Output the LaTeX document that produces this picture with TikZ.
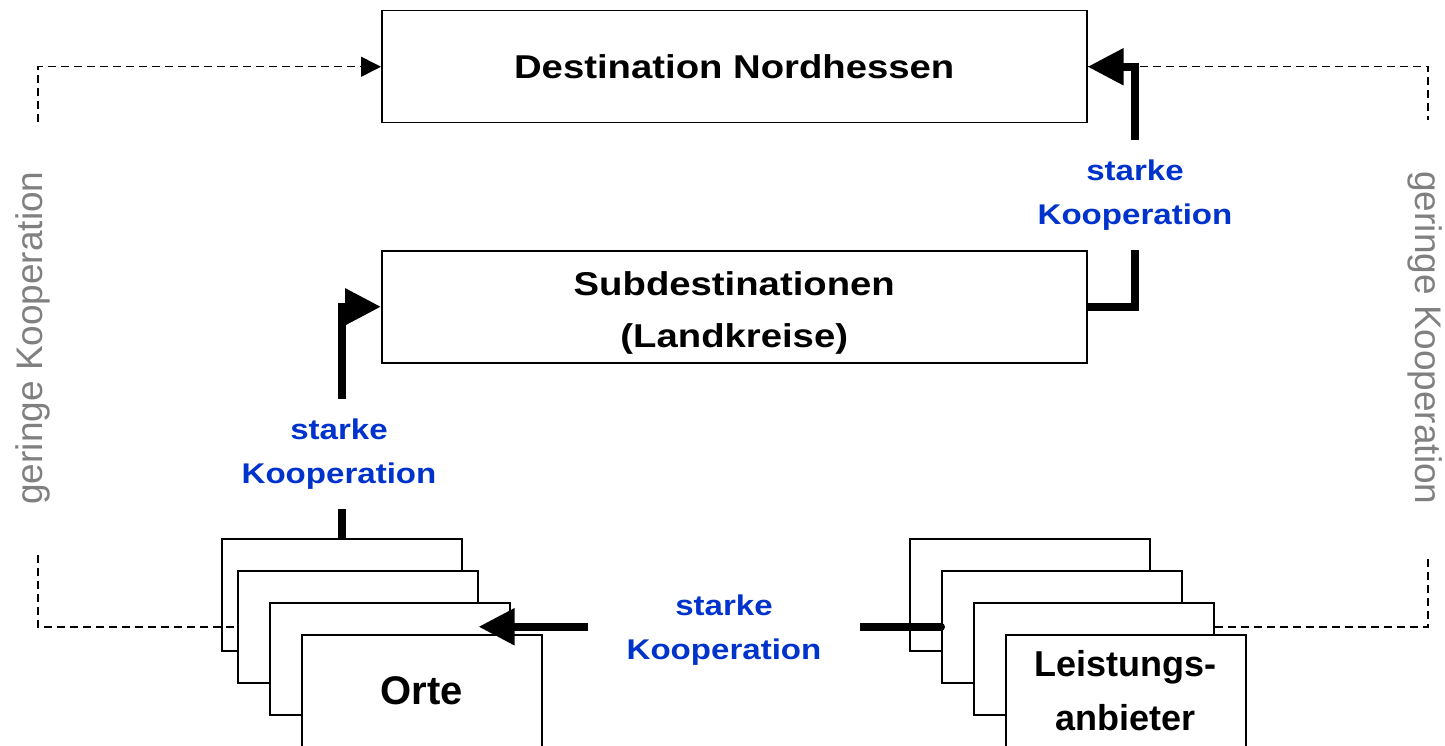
\documentclass[tikz,border=0pt]{standalone}
\usepackage{fontspec}
\setmainfont{Liberation Sans}
\newfontfamily\widesans[FakeStretch=1.16]{Liberation Sans}
\usetikzlibrary{arrows.meta}
\definecolor{kblue}{RGB}{0,51,204}
\definecolor{kgray}{RGB}{128,128,128}
\begin{document}
\begin{tikzpicture}[x=1pt,y=-1pt,
  box/.style={draw, line width=1.5pt, fill=white, inner sep=0pt, anchor=north west,
    align=center, minimum width=240pt, minimum height=112pt},
  bigbox/.style={box, minimum width=705pt, minimum height=112pt,
    font=\widesans\bfseries\fontsize{33}{52}\selectfont},
  boxtext/.style={inner sep=0pt, align=center,
    font=\widesans\bfseries\fontsize{33}{52}\selectfont},
  thickconn/.style={line width=8pt, -{Triangle[length=36pt,width=35pt]}},
  dashline/.style={line width=1.5pt, dash pattern=on 8pt off 5pt},
  dasharrow/.style={dashline, -{Triangle[length=20pt,width=20pt]}},
  blabel/.style={fill=white, text=kblue, align=center, inner sep=0pt,
    font=\widesans\bfseries\fontsize{28.5}{44}\selectfont},
  glabel/.style={text=kgray, inner sep=0pt, font=\fontsize{37}{44}\selectfont}]
\useasboundingbox (0,0) rectangle (1445,746);

% main boxes
\node[bigbox] (dest) at (381,10) {Destination Nordhessen};
\node[bigbox] (sub) at (381,250) {};
\node[boxtext] (subtext) at ([yshift=-6.5pt]sub.center) {Subdestinationen\\(Landkreise)};

% Orte stack
\node[box] (orte1) at (221,538) {};
\node[box] (orte2) at (237,570) {};
\node[box] (orte3) at (269,602) {};
\node[box, font=\bfseries\fontsize{40}{48}\selectfont] (orte4) at (301,634) {Orte};

% Leistungsanbieter stack
\node[box] (leist1) at (909,538) {};
\node[box] (leist2) at (941,570) {};
\node[box] (leist3) at (973,602) {};
\node[box, font=\bfseries\fontsize{36}{54}\selectfont] (leist4) at (1005,634) {Leistungs-\\anbieter};

% free ends of the dashed connectors
\coordinate (lt) at (38,122);
\coordinate (lb) at (38,555);
\coordinate (rt) at (1428,120);
\coordinate (rb) at (1428,555);
\coordinate (l3e) at (leist3.east |- leist2.east);

% dashed connectors (geringe Kooperation)
\draw[dasharrow] (lt) |- (dest.west);
\draw[dashline] (dest.east) -| (rt);
\draw[dashline] (lb) |- (orte2.west);
\draw[dashline] (l3e) -| (rb);

% thick connectors (starke Kooperation)
\draw[thickconn] (orte1.north) |- (sub.west);
\draw[thickconn] (sub.east) -- ++(47,0) |- (dest.east);
\draw[thickconn, line cap=round] (leist2.west) -- (orte2.east);

% labels
\node[blabel, minimum height=110pt] (sk1) at (339,454) {starke\\Kooperation};
\node[blabel, minimum height=110pt] (sk2) at (1135,195) {starke\\Kooperation};
\node[blabel, minimum width=272pt, minimum height=80pt] (sk3) at (724,630) {starke\\Kooperation};
\node[glabel, rotate=90] (g1) at (33,338) {geringe Kooperation};
\node[glabel, rotate=-90] (g2) at (1425,338) {geringe Kooperation};
\end{tikzpicture}
\end{document}
